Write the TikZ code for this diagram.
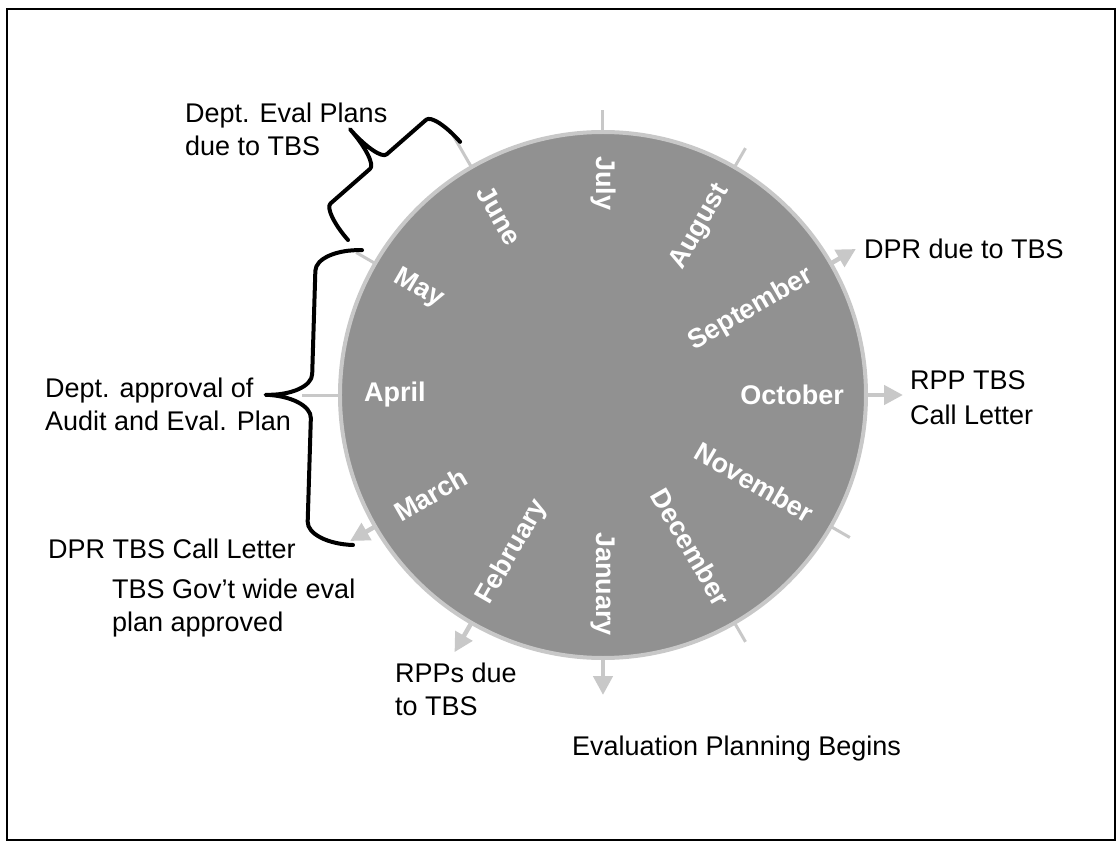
\documentclass[tikz,border=0pt]{standalone}
\usepackage{fontspec}
\setmainfont{Liberation Sans}
\usetikzlibrary{arrows.meta}
\definecolor{ringgray}{RGB}{200,200,200}
\definecolor{diskgray}{RGB}{145,145,145}
% #1 start coordinate, #2 angle, #3 chord length, #4 end-curve extent, #5 straight offset, #6 tip-curve extent, #7 tip height
\newcommand{\mybrace}[7]{%
  \begin{scope}[shift={(#1)},rotate=#2]
    \draw[bracestyle] (0,0) .. controls (0,{0.552*#5}) and ({0.448*#4},#5) .. (#4,#5)
      -- ({#3/2-#6},#5) .. controls ({#3/2-0.448*#6},#5) and ({#3/2},{#7-0.552*(#7-#5)}) .. ({#3/2},#7)
      .. controls ({#3/2},{#7-0.552*(#7-#5)}) and ({#3/2+0.448*#6},#5) .. ({#3/2+#6},#5)
      -- ({#3-#4},#5) .. controls ({#3-0.448*#4},#5) and (#3,{0.552*#5}) .. (#3,0);
  \end{scope}}
\begin{document}
\begin{tikzpicture}[x=1pt,y=1pt,
  month/.style={text=white,font=\fontsize{27}{30}\selectfont\bfseries,inner sep=0pt},
  lbl/.style={font=\fontsize{27}{33}\selectfont,align=left,inner sep=0pt,text=black},
  monthtick/.style={ringgray,line width=3pt},
  garrow/.style={ringgray,line width=4.5pt,-{Triangle[length=19pt,width=19pt]}},
  bracestyle/.style={black,line width=4pt,line cap=round,line join=round}
]
\useasboundingbox (-603,-470) rectangle (517,395);
\draw[line width=2.5pt] (-596,386) rectangle (512,-445);

% wheel
\node[circle,minimum size=526pt,fill=diskgray,draw=ringgray,line width=4pt,inner sep=0pt,outer sep=0pt] (wheel) at (0,0) {};

% ticks
\foreach \a/\r in {90/285,60/285,-30/285,-60/285,150/285,120/300,180/301}{
  \coordinate (t\a) at (\a:\r);
  \draw[monthtick] (wheel.\a) -- (t\a);
}
% arrows
\foreach \a/\r in {30/292,0/300,-90/300,-120/297,-150/292}{
  \coordinate (e\a) at (\a:\r);
  \draw[garrow] (wheel.\a) -- (e\a);
}

% month labels
\foreach \a/\m in {60/August,30/September,0/October,-30/November,-60/December,-90/January}{
  \node[month,anchor=east,rotate=\a] (m\m) at (\a:241) {\m};
}
\foreach \a/\m in {-120/February,-150/March,180/April,150/May,120/June,90/July}{
  \node[month,anchor=west,rotate=\a+180] (m\m) at (\a:239) {\m};
}

% braces
\coordinate (b1s) at (-255,155);
\mybrace{b1s}{41.2}{149}{11}{39}{11}{82}
\coordinate (b2s) at (-250,-150);
\mybrace{b2s}{88.25}{295}{22}{46}{22}{92}

% texts
\node[lbl,anchor=north west] (t1) at (-418,292.5) {Dept. Eval Plans\\due to TBS};
\node[lbl,anchor=north west] (t2) at (-558,17.5) {Dept. approval of\\Audit and Eval. Plan};
\node[lbl,anchor=base west] (t3) at (-555,-163) {DPR TBS Call Letter};
\node[lbl,anchor=north west] (t4) at (-491,-184) {TBS Gov’t wide eval\\plan approved};
\node[lbl,anchor=north west] (t5) at (-208,-267.5) {RPPs due\\to TBS};
\node[lbl,anchor=base west] (t6) at (-31,-360) {Evaluation Planning Begins};
\node[lbl,anchor=north west,font=\fontsize{27}{35}\selectfont] (t7) at (307,25) {RPP TBS\\Call Letter};
\node[lbl,anchor=base west] (t8) at (261,136) {DPR due to TBS};
\end{tikzpicture}
\end{document}
